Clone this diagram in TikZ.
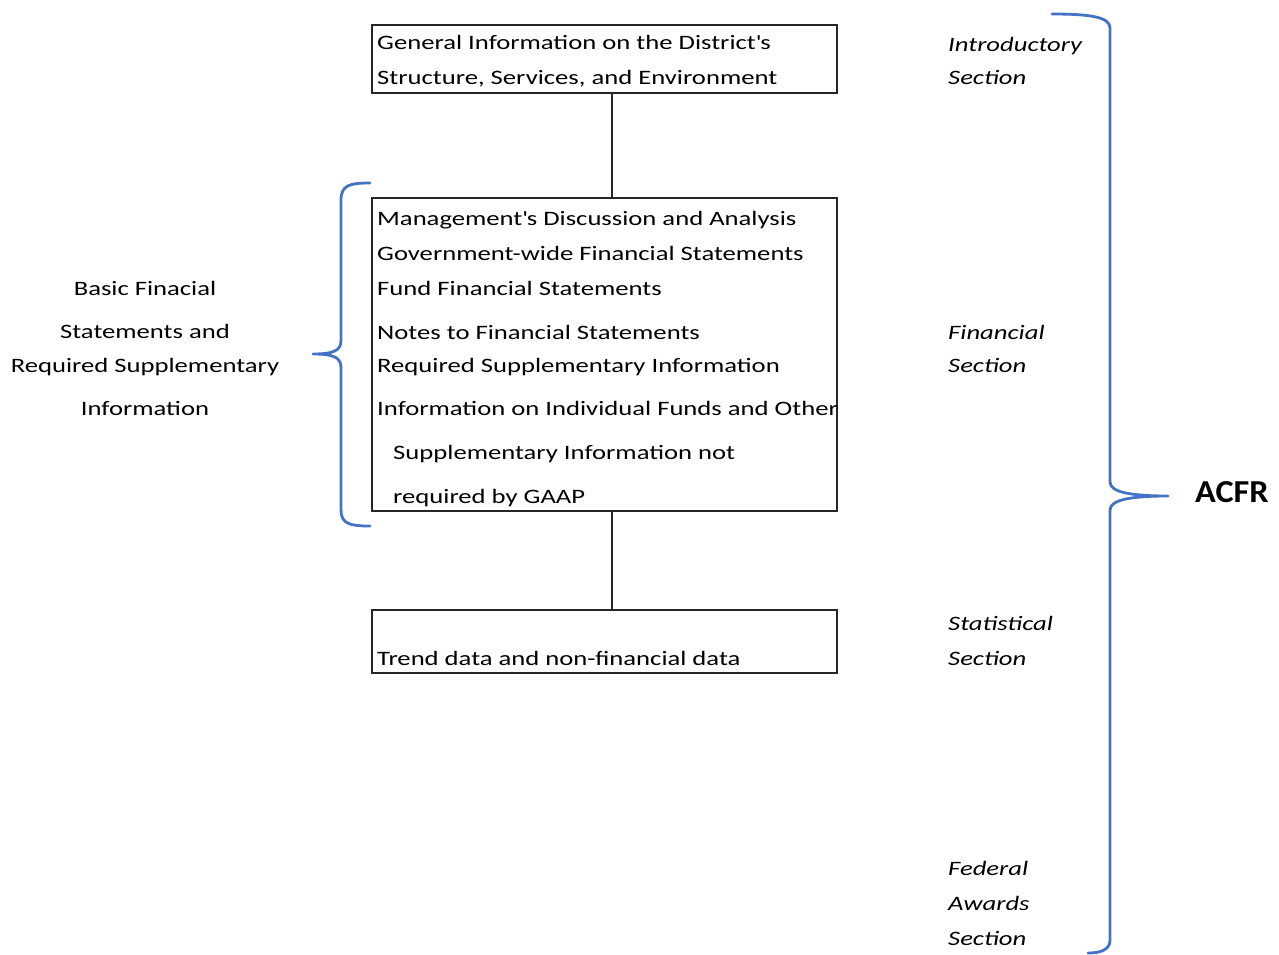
\documentclass[tikz,border=0pt]{standalone}
\usepackage{fontspec}
\setmainfont{Carlito}[FakeStretch=1.30]
\newfontfamily\acfrfont{Carlito}[FakeStretch=1.07]
\definecolor{braceblue}{HTML}{4472C4}
\begin{document}
\begin{tikzpicture}[x=1pt,y=-1pt,
  box/.style={draw=black!85,line width=1.3pt},
  txt/.style={anchor=base west,inner sep=0pt,font=\fontsize{20.5}{24}\selectfont},
  ctxt/.style={anchor=base,inner sep=0pt,font=\fontsize{20.5}{24}\selectfont},
  sec/.style={anchor=base west,inner sep=0pt,font=\fontsize{20.5}{24}\selectfont\itshape},
  brace/.style={draw=braceblue,line width=2.8pt,line cap=round,line join=round},
  conn/.style={draw=black!85,line width=1.3pt}]
\useasboundingbox (0,0) rectangle (1279,955);
% boxes
\node[box,minimum width=465pt,minimum height=68pt,inner sep=0pt] (b1) at (604.5,59) {};
\node[box,minimum width=465pt,minimum height=313pt,inner sep=0pt] (b2) at (604.5,354.5) {};
\node[box,minimum width=465pt,minimum height=63pt,inner sep=0pt] (b3) at (604.5,641.5) {};
\coordinate (c1) at (612,93);
\coordinate (c2) at (612,198);
\coordinate (c3) at (612,511);
\coordinate (c4) at (612,610);
\draw[conn] (c1) -- (c2);
\draw[conn] (c3) -- (c4);
% box texts
\node[txt] (t1) at (377,50) {General Information on the District\textquotesingle s};
\node[txt] (t2) at (377,85) {Structure, Services, and Environment};
\node[txt] (m1) at (377,225) {Management\textquotesingle s Discussion and Analysis};
\node[txt] (m2) at (377,260) {Government-wide Financial Statements};
\node[txt] (m3) at (377,295) {Fund Financial Statements};
\node[txt] (m4) at (377,339) {Notes to Financial Statements};
\node[txt] (m5) at (377,372) {Required Supplementary Information};
\node[txt] (m6) at (377,415) {Information on Individual Funds and Other};
\node[txt] (m7) at (393,459) {Supplementary Information not};
\node[txt] (m8) at (393,503) {required by GAAP};
\node[txt] (s1) at (377,665) {Trend data and non-financial data};
% left texts
\node[ctxt] (l1) at (145,295) {Basic Finacial};
\node[ctxt] (l2) at (145,338) {Statements and};
\node[ctxt] (l3) at (145,372) {Required Supplementary};
\node[ctxt] (l4) at (145,415) {Information};
% right section labels
\node[sec] (r1) at (948,52) {Introductory};
\node[sec] (r2) at (948,85) {Section};
\node[sec] (r3) at (948,339) {Financial};
\node[sec] (r4) at (948,372) {Section};
\node[sec] (r5) at (948,630) {Statistical};
\node[sec] (r6) at (948,665) {Section};
\node[sec] (r7) at (948,875) {Federal};
\node[sec] (r8) at (948,910) {Awards};
\node[sec] (r9) at (948,945) {Section};
\node[anchor=base west,inner sep=0pt,font=\acfrfont\fontsize{32}{36}\selectfont\bfseries] (acfr) at (1195,502) {ACFR};
% left brace
\draw[brace] (370,183) .. controls (350,183) and (341,185) .. (341,200) -- (341,340)
  .. controls (341,350) and (335,354) .. (313,354)
  .. controls (335,354) and (341,358) .. (341,368) -- (341,510)
  .. controls (341,524) and (350,526) .. (370,526);
% right brace
\draw[brace] (1052,14) .. controls (1090,14) and (1110,17) .. (1110,28) -- (1110,482)
  .. controls (1110,492) and (1130,496) .. (1168,496)
  .. controls (1130,496) and (1110,500) .. (1110,510) -- (1110,940)
  .. controls (1110,950) and (1100,953) .. (1088,953);
\end{tikzpicture}
\end{document}
